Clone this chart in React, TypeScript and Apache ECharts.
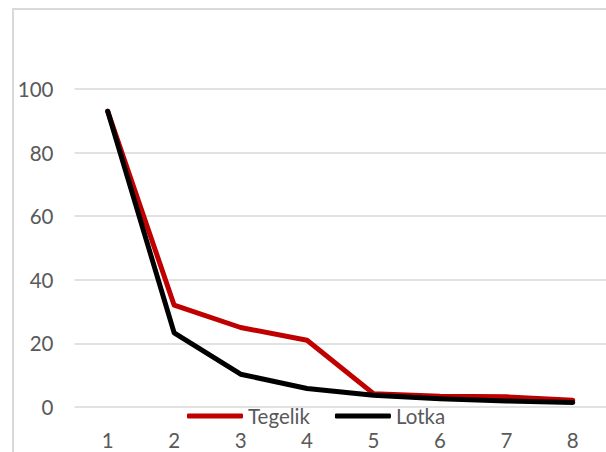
import React, { useEffect, useRef } from "react";
import * as echarts from "echarts";

const categories = ["1", "2", "3", "4", "5", "6", "7", "8"];
const tegelik = [93, 32, 25, 21, 4.2, 3.4, 3.2, 2.1];
const lotka = [93, 23.3, 10.3, 5.8, 3.7, 2.6, 1.9, 1.45];
const yTicks = { min: 0, max: 100, interval: 20 };

const FONT = "Lato";
const TEXT = "#595959";
const GRID = "#d9d9d9";
const FS = 20.5;

export default function App() {
  const ref = useRef<HTMLDivElement>(null);
  useEffect(() => {
    if (!ref.current) return;
    const chart = echarts.init(ref.current, undefined, { renderer: "svg" });
    chart.setOption({
      animation: false,
      backgroundColor: "#ffffff",
      graphic: [
        {
          type: "rect",
          shape: { x: 13, y: 9, width: 800, height: 800 },
          style: { fill: "none", stroke: GRID, lineWidth: 2 },
          silent: true,
        },
      ],
      grid: { left: 74.5, top: 89, width: 537, height: 318.7, containLabel: false },
      legend: {
        left: 187,
        top: 404,
        padding: 0,
        itemWidth: 56,
        itemHeight: 5,
        itemGap: 25,
        icon: "roundRect",
        textStyle: { fontFamily: FONT, fontSize: FS, color: TEXT, lineHeight: 24 },
        data: ["Tegelik", "Lotka"],
      },
      xAxis: {
        type: "category",
        data: categories,
        boundaryGap: true,
        axisLine: { show: false },
        axisTick: { show: false },
        axisLabel: { color: TEXT, fontFamily: FONT, fontSize: FS, lineHeight: 24, margin: 21 },
      },
      yAxis: {
        type: "value",
        min: yTicks.min,
        max: yTicks.max,
        interval: yTicks.interval,
        axisLine: { show: false },
        axisTick: { show: false },
        axisLabel: { color: TEXT, fontFamily: FONT, fontSize: FS, margin: 21 },
        splitLine: { lineStyle: { color: GRID, width: 1.5 } },
      },
      series: [
        {
          name: "Tegelik",
          type: "line",
          data: tegelik,
          symbol: "none",
          color: "#c00000",
          lineStyle: { width: 5, color: "#c00000", cap: "round", join: "round" },
        },
        {
          name: "Lotka",
          type: "line",
          data: lotka,
          symbol: "none",
          color: "#000000",
          lineStyle: { width: 5, color: "#000000", cap: "round", join: "round" },
        },
      ],
    });
    return () => chart.dispose();
  }, []);
  return (
    <div
      ref={ref}
      style={{ position: "fixed", left: 0, top: 0, width: 606, height: 452 }}
    />
  );
}
